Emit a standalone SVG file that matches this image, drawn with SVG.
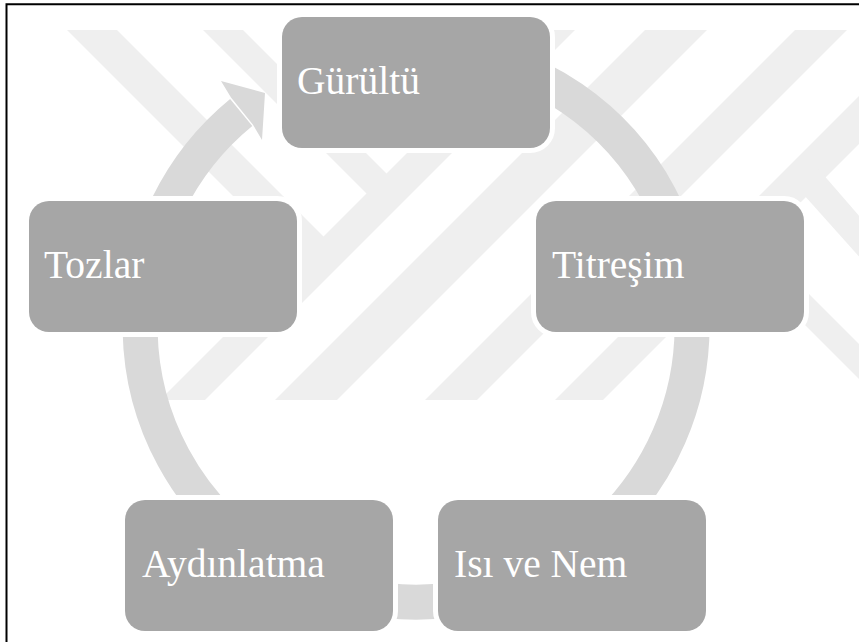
<svg xmlns="http://www.w3.org/2000/svg" width="859" height="642" viewBox="0 0 859 642">
<style>
.wm{fill:#efefef}
.node rect{fill:#a6a6a6;stroke:#ffffff;stroke-width:10;paint-order:stroke fill}
.node text{font-family:"Liberation Serif","Times New Roman",serif;font-size:39.5px;fill:#ffffff}
.ring{fill:none;stroke:#d9d9d9;stroke-width:35;stroke-linecap:butt}
.head{fill:#d9d9d9}
</style>
<rect x="0" y="0" width="859" height="642" fill="#ffffff"/>
<g id="watermark">
<polygon class="wm" points="530,30 575,30 205,400 160,400"/>
<polygon class="wm" points="645,30 707,30 337,400 275,400"/>
<polygon class="wm" points="795,30 847,30 477,400 425,400"/>
<polygon class="wm" points="925,30 973,30 603,400 555,400"/>
<polygon class="wm" points="67,30 117,30 338.5,251.5 313.5,276.5"/>
<polygon class="wm" points="203,30 243,30 401.5,188.5 381.5,208.5"/>
<polygon class="wm" points="795,185 815,165 880,240 880,280"/>
<polygon class="wm" points="747.5,232.5 730,250 870,390 870,355"/>
</g>
<g id="connectors">
<path class="ring" d="M463.9,54.2 A276,276 0 1 1 241.2,112.5"/>
<polygon class="head" points="231,97.5 221,81 265,93 262,140 253,124.7"/>
</g>
<g id="node-gurultu" class="node">
<rect x="282" y="17" width="268" height="131" rx="20" ry="20"/>
<text x="297" y="94">Gürültü</text>
</g>
<g id="node-titresim" class="node">
<rect x="536" y="201" width="268" height="131" rx="20" ry="20"/>
<text x="552" y="278">Titreşim</text>
</g>
<g id="node-isi-ve-nem" class="node">
<rect x="438" y="500" width="268" height="131" rx="20" ry="20"/>
<text x="454" y="577">Isı ve Nem</text>
</g>
<g id="node-aydinlatma" class="node">
<rect x="125" y="500" width="268" height="131" rx="20" ry="20"/>
<text x="142" y="577">Aydınlatma</text>
</g>
<g id="node-tozlar" class="node">
<rect x="29" y="201" width="268" height="131" rx="20" ry="20"/>
<text x="44" y="278">Tozlar</text>
</g>
<path d="M6.5,642 V4.2 H859" fill="none" stroke="#000000" stroke-width="2"/>
</svg>
